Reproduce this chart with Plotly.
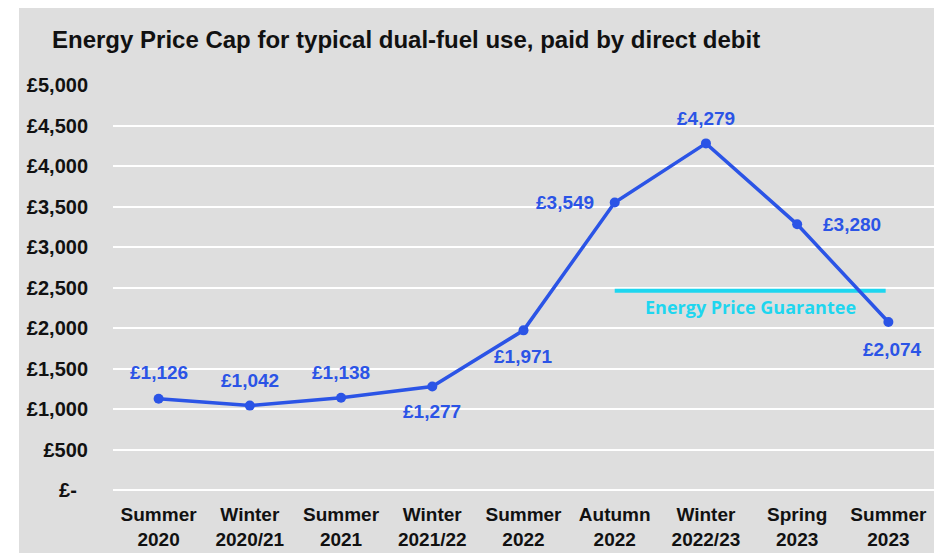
import plotly.graph_objects as go

categories = ["Summer<br>2020", "Winter<br>2020/21", "Summer<br>2021", "Winter<br>2021/22",
              "Summer<br>2022", "Autumn<br>2022", "Winter<br>2022/23", "Spring<br>2023", "Summer<br>2023"]
values = [1126, 1042, 1138, 1277, 1971, 3549, 4279, 3280, 2074]
value_labels = ["£1,126", "£1,042", "£1,138", "£1,277", "£1,971", "£3,549", "£4,279", "£3,280", "£2,074"]
label_shift_x = [0, 0, 0, 0, 0, -50, 0, 55, 4]
label_shift_y = [26, 25, 25, -25, -26, 0, 25, 0, -27]
ytick_vals = [0, 500, 1000, 1500, 2000, 2500, 3000, 3500, 4000, 4500, 5000]
ytick_text = ["£-&nbsp;&nbsp;", "£500", "£1,000", "£1,500", "£2,000", "£2,500", "£3,000", "£3,500", "£4,000", "£4,500", "£5,000"]
guarantee_level = 2460
guarantee_start = 5.0
guarantee_end = 7.97

xs = list(range(len(categories)))
BLUE = "#2b54e6"
CYAN = "#1ed6ef"

# plot area in figure pixels (page body adds an 8px offset)
L, R, T, B = 105, 926, 77, 482
PW, PH = R - L, B - T

fig = go.Figure()
fig.add_trace(go.Scatter(
    x=[guarantee_start, guarantee_end], y=[guarantee_level, guarantee_level],
    mode="lines", line=dict(color=CYAN, width=4), hoverinfo="skip", showlegend=False))
fig.add_trace(go.Scatter(
    x=xs, y=values, mode="lines+markers",
    line=dict(color=BLUE, width=3.5), marker=dict(color=BLUE, size=10),
    showlegend=False))

for x, v, t, dx, dy in zip(xs, values, value_labels, label_shift_x, label_shift_y):
    fig.add_annotation(x=x, y=v, text="<b>%s</b>" % t, showarrow=False, xshift=dx, yshift=dy,
                       font=dict(family="Liberation Sans, Arial", size=19, color=BLUE))

fig.add_annotation(x=(guarantee_start + guarantee_end) / 2, y=guarantee_level, text="<b>Energy Price Guarantee</b>",
                   showarrow=False, yshift=-16,
                   font=dict(family="Open Sans, Noto Sans", size=18, color=CYAN))

fig.add_annotation(xref="paper", yref="paper", x=(42 - L) / PW, y=(B - 32) / PH,
                   xanchor="left", yanchor="middle", showarrow=False,
                   text="<b>Energy Price Cap for typical dual-fuel use, paid by direct debit</b>",
                   font=dict(family="Liberation Sans, Arial", size=24, color="#111111"))

fig.add_shape(type="rect", xref="paper", yref="paper", layer="below",
              x0=(11 - L) / PW, x1=(927 - L) / PW, y0=(B - 560) / PH, y1=(B + 3) / PH,
              fillcolor="#dedede", line=dict(width=0))

fig.update_layout(
    width=942, height=553,
    margin=dict(l=L, r=942 - R, t=T, b=553 - B, autoexpand=False),
    paper_bgcolor="white", plot_bgcolor="rgba(0,0,0,0)",
    font=dict(family="Liberation Sans, Arial", size=19, color="#111111"),
    xaxis=dict(tickmode="array", tickvals=xs, ticktext=["<b>%s</b>" % c for c in categories],
               range=[-0.5, len(categories) - 0.5], showgrid=False, zeroline=False,
               showline=False, ticks="", ticklabelstandoff=11, automargin=False),
    yaxis=dict(tickmode="array", tickvals=ytick_vals, ticktext=["<b>%s</b>" % t for t in ytick_text],
               range=[0, 5000], showgrid=True, gridcolor="white", gridwidth=1.5,
               zeroline=True, zerolinecolor="white", zerolinewidth=1.5,
               showline=False, ticks="", ticklabelstandoff=24, automargin=False,
               tickfont=dict(size=20)),
)

fig.write_html("out.html")
